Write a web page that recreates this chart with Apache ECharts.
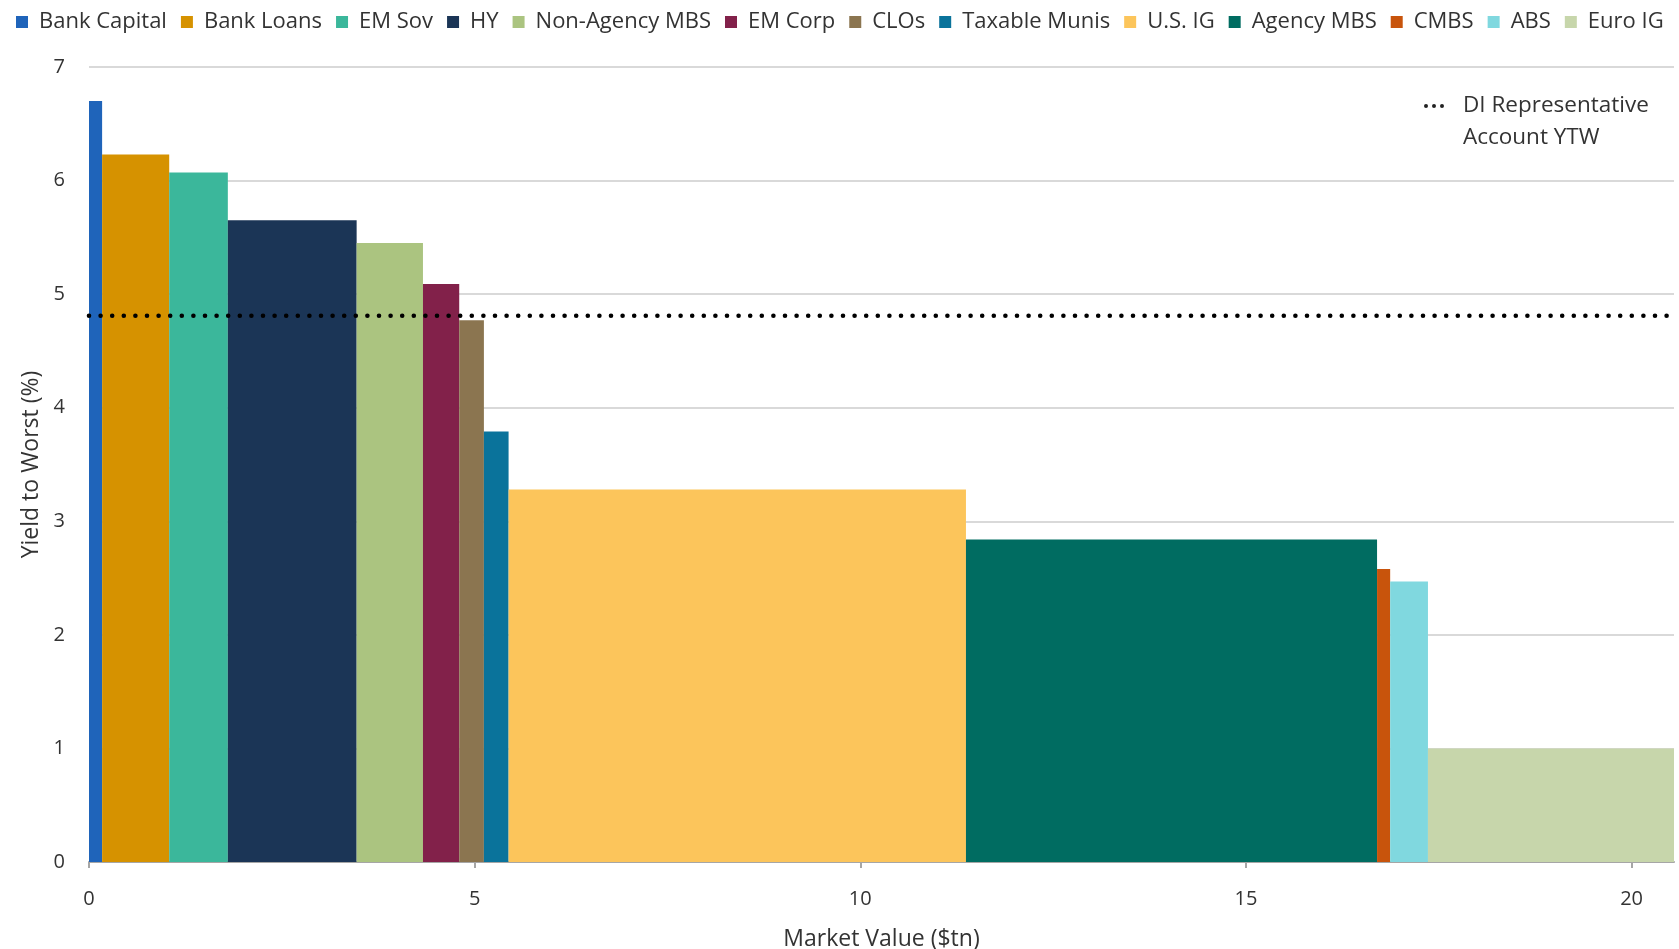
<!DOCTYPE html>
<html>
<head>
<meta charset="utf-8">
<script src="https://cdn.jsdelivr.net/npm/echarts@6/dist/echarts.min.js"></script>
<style>
html,body{margin:0;padding:0;background:#fff;}
#chart{width:1679px;height:949px;}
</style>
</head>
<body>
<div id="chart"></div>
<script>
// ---- data ----
const categories = ['Bank Capital','Bank Loans','EM Sov','HY','Non-Agency MBS','EM Corp','CLOs','Taxable Munis','U.S. IG','Agency MBS','CMBS','ABS','Euro IG'];
const marketValues = [0.17, 0.87, 0.76, 1.67, 0.86, 0.47, 0.32, 0.32, 5.93, 5.33, 0.17, 0.49, 3.19]; // $tn
const yieldsToWorst = [6.70, 6.23, 6.07, 5.65, 5.45, 5.09, 4.77, 3.79, 3.28, 2.84, 2.58, 2.47, 1.00]; // %
const diName = 'DI Representative\nAccount YTW';
const diYield = 4.81;
const xTickValues = [0, 5, 10, 15, 20];
const yTickValues = [0, 1, 2, 3, 4, 5, 6, 7];

// ---- styles ----
const colors = ['#1f64ba','#d69200','#3bb79b','#1b3556','#abc480','#82214a','#8b7550','#0a739b','#fcc55b','#006c61','#c8540c','#80d8df','#c7d6ab'];
const FONT = '"Open Sans", "Noto Sans", sans-serif';
// three dots at top, plus a bare move-to point that extends the icon box downward
const DOTS_ICON = 'path://M0,1a1,1 0 1,0 2,0a1,1 0 1,0 -2,0Z M4,1a1,1 0 1,0 2,0a1,1 0 1,0 -2,0Z M8,1a1,1 0 1,0 2,0a1,1 0 1,0 -2,0Z M10,18';

// cumulative extents
const starts = [];
let acc = 0;
marketValues.forEach(v => { starts.push(acc); acc += v; });
const total = acc;

const barSeries = categories.map((name, i) => ({
  name: name,
  type: 'custom',
  itemStyle: { color: colors[i] },
  encode: { x: [0, 1], y: 2 },
  data: [[starts[i], starts[i] + marketValues[i], yieldsToWorst[i]]],
  renderItem: function (params, api) {
    const p0 = api.coord([api.value(0), api.value(2)]);
    const p1 = api.coord([api.value(1), 0]);
    return {
      type: 'rect',
      shape: { x: p0[0], y: p0[1], width: p1[0] - p0[0], height: p1[1] - p0[1] },
      style: { fill: api.visual('color') }
    };
  },
  z: 2
}));

const diSeries = {
  name: diName,
  type: 'line',
  symbol: 'none',
  data: [[0, diYield], [total - 0.03, diYield]],
  lineStyle: { color: '#000', width: 4.6, type: [0, 11.6], cap: 'round' },
  itemStyle: { color: '#000' },
  z: 5,
  silent: true
};

const chart = echarts.init(document.getElementById('chart'), null, { renderer: 'canvas' });
chart.setOption({
  animation: false,
  backgroundColor: '#fff',
  textStyle: { fontFamily: FONT },
  legend: [
    {
      data: categories,
      top: 9,
      left: 16,
      padding: 0,
      itemGap: 14,
      itemWidth: 12,
      itemHeight: 12,
      icon: 'rect',
      textStyle: { fontSize: 22, lineHeight: 26, color: '#333', fontFamily: FONT, padding: [0, 0, 0, 6] }
    },
    {
      data: [diName],
      orient: 'vertical',
      left: 1424,
      top: 90,
      padding: 0,
      itemWidth: 20,
      itemHeight: 36,
      icon: DOTS_ICON,
      itemStyle: { color: '#222', borderWidth: 0 },
      textStyle: { fontSize: 22.5, color: '#333', fontFamily: FONT, lineHeight: 32, padding: [0, 0, 0, 14] }
    }
  ],
  grid: { left: 89, right: 5, top: 67, bottom: 87, containLabel: false, outerBoundsMode: 'none' },
  xAxis: {
    type: 'value',
    min: 0,
    max: total,
    interval: 5,
    name: 'Market Value ($tn)',
    nameLocation: 'middle',
    nameGap: 66,
    nameTextStyle: { fontSize: 23, color: '#333', fontFamily: FONT },
    axisLine: { show: true, lineStyle: { color: '#a6a6a6', width: 2 } },
    axisTick: { show: true, length: 6, lineStyle: { color: '#a6a6a6', width: 2 }, customValues: xTickValues },
    axisLabel: { fontSize: 20, color: '#333', margin: 27, customValues: xTickValues, fontFamily: FONT },
    splitLine: { show: false }
  },
  yAxis: {
    type: 'value',
    min: 0,
    max: 7,
    interval: 1,
    name: 'Yield to Worst (%)',
    nameLocation: 'middle',
    nameGap: 43,
    nameTextStyle: { fontSize: 23, color: '#333', fontFamily: FONT },
    axisLine: { show: false },
    axisTick: { show: false },
    axisLabel: { fontSize: 20, color: '#333', margin: 24, fontFamily: FONT },
    splitLine: { show: true, lineStyle: { color: '#d9d9d9', width: 2 } }
  },
  series: barSeries.concat([diSeries])
});
</script>
</body>
</html>
